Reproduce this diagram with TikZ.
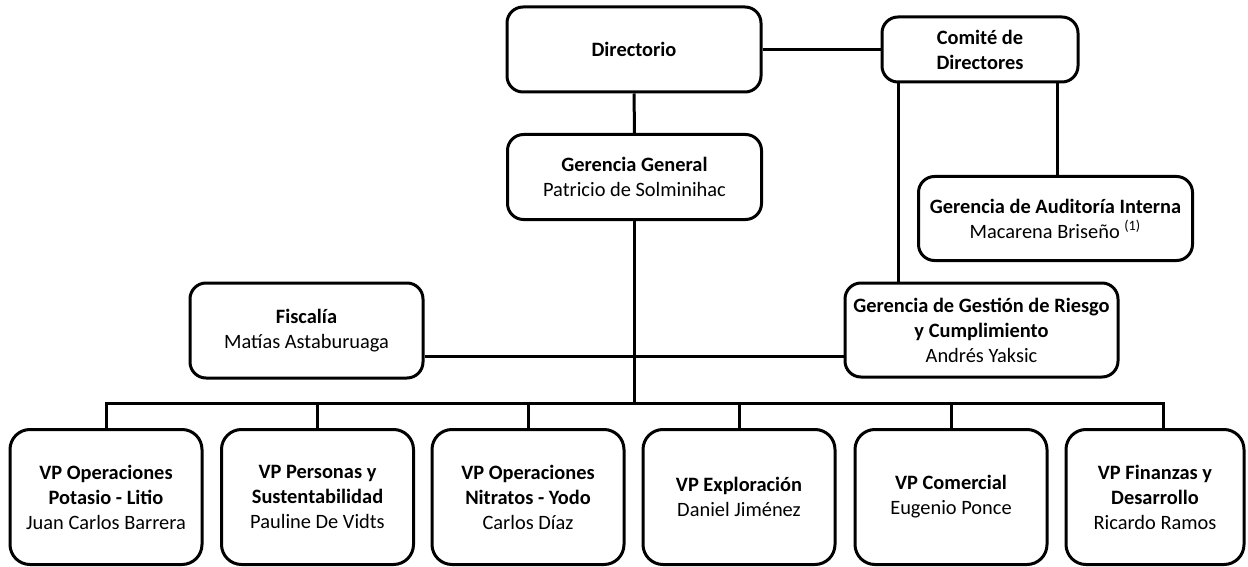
\documentclass[tikz,border=0pt]{standalone}
\usepackage{fontspec}
\setmainfont{Carlito}
\usepackage{tikz}
\usetikzlibrary{positioning}

\begin{document}
\begin{tikzpicture}[x=0.5pt,y=-0.5pt,
    box/.style={rectangle,draw,line width=1.5pt,rounded corners=8pt,align=center,inner sep=0pt,
      font=\fontsize{10.2}{12.5}\selectfont},
    vpbox/.style={box,rounded corners=10pt,minimum width=96pt,minimum height=67.5pt},
    link/.style={line width=1.5pt}]
    \useasboundingbox (0,0) rectangle (1248,567);

    \node[box,minimum width=127pt,minimum height=42.5pt] (dir) at (634,49.5) {\textbf{Directorio}};
    \node[box,minimum width=98pt,minimum height=32.5pt] (comite) at (980,49.5) {\textbf{Comité de}\\\textbf{Directores}};
    \node[box,minimum width=127pt,minimum height=42.5pt] (gg) at (634.5,177) {\textbf{Gerencia General}\\Patricio de Solminihac};
    \node[box,minimum width=137pt,minimum height=42pt] (audit) at (1055.5,218.5) {\textbf{Gerencia de Auditoría Interna}\\Macarena Briseño \textsuperscript{(1)}};
    \node[box,minimum width=116.5pt,minimum height=47.5pt] (fisc) at (306.5,330.5) {\textbf{Fiscalía}\\Matías Astaburuaga};
    \node[box,minimum width=136.5pt,minimum height=47pt] (riesgo) at (981.5,330) {\textbf{Gerencia de Gestión de Riesgo}\\\textbf{y Cumplimiento}\\Andrés Yaksic};

    % Vicepresidencias
    \node[vpbox] (v1) at (106,497) {\textbf{VP Operaciones}\\\textbf{Potasio - Litio}\\Juan Carlos Barrera};
    \node[vpbox] (v2) at (317.5,497) {\textbf{VP Personas y}\\\textbf{Sustentabilidad}\\Pauline De Vidts};
    \node[vpbox] (v3) at (528,497) {\textbf{VP Operaciones}\\\textbf{Nitratos - Yodo}\\Carlos Díaz};
    \node[vpbox] (v4) at (739,497) {\textbf{VP Exploración}\\Daniel Jiménez};
    \node[vpbox] (v5) at (951,497) {\textbf{VP Comercial}\\Eugenio Ponce};
    \node[vpbox,minimum width=89pt] (v6) at (1155,497) {\textbf{VP Finanzas y}\\\textbf{Desarrollo}\\Ricardo Ramos};

    \draw[link] (dir) -- (comite);
    \draw[link] (dir) -- (gg);
    \draw[link] (gg.south) -- (gg.south |- 0,405);
    \draw[link] ([yshift=-13pt]fisc.east) -- ([yshift=-13pt]fisc.east -| riesgo.west);
    \draw[link] ([xshift=-41.75pt]comite.south -| riesgo.north) -- ([xshift=-41.75pt]riesgo.north);
    \draw[link] ([xshift=38.5pt]comite.south) -- ([xshift=38.5pt]comite.south |- audit.north);

    % Barra inferior
    \draw[link] (v1.north) -- ++(0,-25) -| ([xshift=4pt]v6.north);
    \foreach \v in {v2,v3,v4,v5}
      \draw[link] (\v.north) -- ++(0,-25);
\end{tikzpicture}
\end{document}
